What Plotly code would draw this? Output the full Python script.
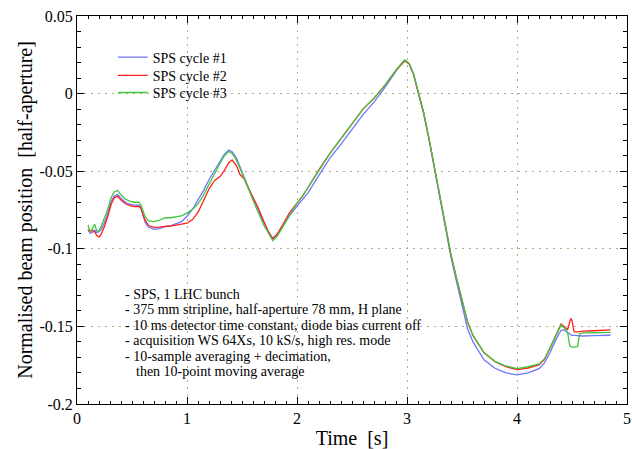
import plotly.graph_objects as go

# ---- data ----
time_s = [0.10, 0.12, 0.14, 0.16, 0.18, 0.20, 0.22, 0.25, 0.28, 0.31, 0.34, 0.37, 0.40, 0.44, 0.48,
          0.52, 0.56, 0.58, 0.60, 0.62, 0.65, 0.70, 0.75, 0.80, 0.85, 0.90, 0.95, 1.00, 1.05, 1.10,
          1.15, 1.20, 1.25, 1.30, 1.34, 1.38, 1.41, 1.45, 1.48, 1.52, 1.56, 1.60, 1.65, 1.70, 1.74,
          1.78, 1.82, 1.87, 1.93, 2.00, 2.05, 2.10, 2.20, 2.30, 2.40, 2.50, 2.60, 2.70, 2.80, 2.90,
          2.95, 2.98, 3.02, 3.06, 3.10, 3.15, 3.20, 3.25, 3.30, 3.35, 3.40, 3.45, 3.50, 3.55, 3.60,
          3.70, 3.80, 3.90, 4.00, 4.10, 4.20, 4.25, 4.30, 4.35, 4.40, 4.43, 4.46, 4.48, 4.49, 4.50,
          4.52, 4.55, 4.57, 4.60, 4.70, 4.80, 4.85]

cycle1 = [-0.0875, -0.0900, -0.0895, -0.0880, -0.0895, -0.0890, -0.0875, -0.0830, -0.0770, -0.0695,
          -0.0660, -0.0650, -0.0675, -0.0700, -0.0712, -0.0718, -0.0718, -0.0730, -0.0785, -0.0830,
          -0.0860, -0.0875, -0.0870, -0.0855, -0.0852, -0.0840, -0.0825, -0.0790, -0.0745, -0.0685,
          -0.0625, -0.0555, -0.0495, -0.0440, -0.0390, -0.0363, -0.0375, -0.0415, -0.0470, -0.0540,
          -0.0610, -0.0680, -0.0760, -0.0835, -0.0890, -0.0932, -0.0905, -0.0855, -0.0790, -0.0725,
          -0.0685, -0.0640, -0.0525, -0.0415, -0.0325, -0.0230, -0.0135, -0.0055, 0.0040, 0.0145,
          0.0195, 0.0213, 0.0190, 0.0120, 0.0010, -0.0125, -0.0295, -0.0485, -0.0680, -0.0875,
          -0.1055, -0.1210, -0.1370, -0.1515, -0.1600, -0.1715, -0.1770, -0.1800, -0.1812, -0.1800,
          -0.1772, -0.1735, -0.1670, -0.1590, -0.1525, -0.1522, -0.1540, -0.1550, -0.1555, -0.1558,
          -0.1558, -0.1560, -0.1562, -0.1562, -0.1560, -0.1558, -0.1557]

cycle2 = [-0.0880, -0.0890, -0.0880, -0.0890, -0.0915, -0.0925, -0.0905, -0.0855, -0.0790, -0.0715,
          -0.0670, -0.0662, -0.0685, -0.0710, -0.0722, -0.0728, -0.0726, -0.0738, -0.0780, -0.0815,
          -0.0850, -0.0862, -0.0860, -0.0858, -0.0853, -0.0847, -0.0842, -0.0835, -0.0812, -0.0765,
          -0.0690, -0.0615, -0.0560, -0.0535, -0.0495, -0.0445, -0.0428, -0.0465, -0.0520, -0.0550,
          -0.0610, -0.0665, -0.0740, -0.0825, -0.0890, -0.0938, -0.0905, -0.0845, -0.0770, -0.0705,
          -0.0660, -0.0605, -0.0490, -0.0385, -0.0290, -0.0195, -0.0100, -0.0030, 0.0055, 0.0150,
          0.0192, 0.0210, 0.0192, 0.0125, 0.0015, -0.0120, -0.0290, -0.0480, -0.0675, -0.0865,
          -0.1040, -0.1190, -0.1335, -0.1470, -0.1560, -0.1670, -0.1728, -0.1760, -0.1778, -0.1768,
          -0.1748, -0.1712, -0.1640, -0.1560, -0.1485, -0.1500, -0.1522, -0.1470, -0.1448, -0.1465,
          -0.1535, -0.1535, -0.1532, -0.1530, -0.1528, -0.1526, -0.1523]

cycle3 = [-0.0847, -0.0890, -0.0870, -0.0842, -0.0885, -0.0885, -0.0855, -0.0805, -0.0745, -0.0670,
          -0.0632, -0.0625, -0.0652, -0.0680, -0.0693, -0.0700, -0.0700, -0.0715, -0.0760, -0.0795,
          -0.0820, -0.0825, -0.0815, -0.0800, -0.0800, -0.0795, -0.0788, -0.0770, -0.0745, -0.0710,
          -0.0655, -0.0585, -0.0515, -0.0450, -0.0400, -0.0372, -0.0385, -0.0430, -0.0480, -0.0550,
          -0.0625, -0.0690, -0.0770, -0.0850, -0.0900, -0.0948, -0.0920, -0.0860, -0.0780, -0.0705,
          -0.0660, -0.0605, -0.0490, -0.0385, -0.0290, -0.0195, -0.0100, -0.0030, 0.0055, 0.0152,
          0.0197, 0.0217, 0.0195, 0.0128, 0.0018, -0.0118, -0.0288, -0.0478, -0.0672, -0.0862,
          -0.1038, -0.1188, -0.1333, -0.1468, -0.1558, -0.1668, -0.1725, -0.1755, -0.1772, -0.1760,
          -0.1742, -0.1708, -0.1640, -0.1565, -0.1492, -0.1510, -0.1540, -0.1625, -0.1632, -0.1633,
          -0.1633, -0.1630, -0.1548, -0.1542, -0.1541, -0.1540, -0.1538]

series_names = ["SPS cycle #1", "SPS cycle #2", "SPS cycle #3"]

y_tick_vals = [-0.2, -0.15, -0.1, -0.05, 0, 0.05]
y_tick_text = ["-0.2", "-0.15", "-0.1", "-0.05", "0", "0.05"]

notes = [
    "- SPS, 1 LHC bunch",
    "- 375 mm stripline, half-aperture 78 mm, H plane",
    "- 10 ms detector time constant, diode bias current off",
    "- acquisition WS 64Xs, 10 kS/s, high res. mode",
    "- 10-sample averaging + decimation,",
    "then 10-point moving average",
]

# ---- figure ----
FONT = "Liberation Serif, Times New Roman, serif"
colors = ["#7373ff", "#ff2020", "#40c840"]
GRID = "#b3aa86"
legend_ids = ["legend", "legend2", "legend3"]
legend_tops = [0.934, 0.887, 0.843]

fig = go.Figure()
for name, vals, col, lg in zip(series_names, [cycle1, cycle2, cycle3], colors, legend_ids):
    fig.add_trace(go.Scatter(x=time_s, y=vals, mode="lines", name=name, legend=lg,
                             line=dict(color=col, width=1.3)))

legend_style = dict(x=0.065, xanchor="left", yanchor="top", bgcolor="rgba(0,0,0,0)",
                    font=dict(family=FONT, size=14, color="black"))

fig.update_layout(
    width=632, height=449,
    margin=dict(l=77, r=5, t=16, b=45, autoexpand=False),
    plot_bgcolor="white", paper_bgcolor="white",
    font=dict(family=FONT, color="black"),
    showlegend=True,
    legend=dict(y=legend_tops[0], **legend_style),
    legend2=dict(y=legend_tops[1], **legend_style),
    legend3=dict(y=legend_tops[2], **legend_style),
    xaxis=dict(
        range=[0, 5], tickmode="linear", tick0=0, dtick=1,
        ticks="inside", ticklen=7, tickwidth=1, tickcolor="black",
        showline=True, linecolor="black", linewidth=1, mirror="ticks",
        showgrid=True, gridcolor=GRID, gridwidth=1, griddash="2px,5px",
        zeroline=False, tickfont=dict(size=16), automargin=False,
        ticklabelstandoff=0,
        minor=dict(tickmode="linear", tick0=0, dtick=0.1, ticks="inside", ticklen=3,
                   tickcolor="black", showgrid=False),
        title=dict(text="Time \u00a0[s]", font=dict(size=20), standoff=5),
    ),
    xaxis2=dict(
        overlaying="x", anchor="y", range=[0, 5], tickmode="linear", tick0=0.5, dtick=1,
        ticks="inside", ticklen=5, tickcolor="black", showticklabels=False,
        showgrid=False, zeroline=False, showline=True, linecolor="black", mirror="ticks",
    ),
    yaxis=dict(
        range=[-0.2, 0.05], tickmode="array", tickvals=y_tick_vals, ticktext=y_tick_text,
        ticks="inside", ticklen=7, tickwidth=1, tickcolor="black",
        showline=True, linecolor="black", linewidth=1, mirror="ticks",
        showgrid=True, gridcolor=GRID, gridwidth=1, griddash="2px,5px",
        zeroline=False, tickfont=dict(size=16), automargin=False,
        ticklabelstandoff=0,
        minor=dict(tickmode="linear", tick0=0, dtick=0.01, ticks="inside", ticklen=4,
                   tickcolor="black", showgrid=False),
        title=dict(text="Normalised beam position \u00a0[half-aperture]", font=dict(size=20), standoff=1),
    ),
)

note_y = [0.2830, 0.2431, 0.2031, 0.1632, 0.1232, 0.0833]
note_x = [0.0836, 0.0836, 0.0836, 0.0836, 0.0836, 0.1036]
for txt, nx, ny in zip(notes, note_x, note_y):
    fig.add_annotation(text=txt, xref="paper", yref="paper", x=nx, y=ny,
                       xanchor="left", yanchor="middle", showarrow=False,
                       font=dict(family=FONT, size=14, color="black"))

fig.write_html("out.html", config={"displayModeBar": False},
               post_script="document.body.style.margin='0';document.body.style.padding='0';")
